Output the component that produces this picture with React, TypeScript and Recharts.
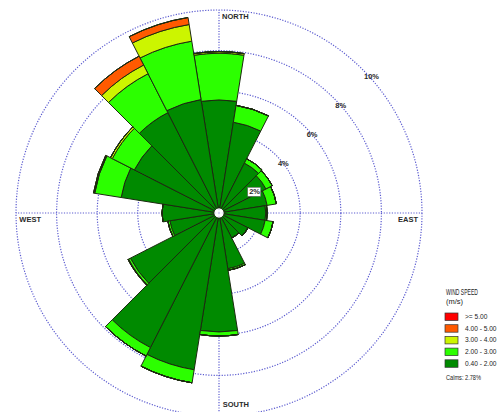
import React from 'react';
import { RadialBarChart, RadialBar, PolarGrid, PolarAngleAxis, PolarRadiusAxis, Legend } from 'recharts';

// Wind directions (degrees clockwise from north), 20 sectors of 18 degrees
const directions = ['0', '18', '36', '54', '72', '90', '108', '126', '144', '162', '180', '198', '216', '234', '252', '270', '288', '306', '324', '342'];
const compassLabels: Record<string, string> = { '0': 'NORTH', '90': 'EAST', '180': 'SOUTH', '270': 'WEST' };

// Frequencies (%) per speed class, per direction
const calmHole = [0.25, 0.25, 0.25, 0.25, 0.25, 0.25, 0.25, 0.25, 0.25, 0.25, 0.25, 0.25, 0.25, 0.25, 0.25, 0.25, 0.25, 0.25, 0.25, 0.25];
const speed040to200 = [5.32, 4.28, 2.51, 2.35, 2.15, 2.05, 2.05, 1.35, 1.13, 2.53, 5.61, 7.57, 7.19, 4.65, 2.2, 2.55, 4.63, 4.43, 5.3, 5.41];
const speed200to300 = [2.3, 0.84, 0.24, 0.35, 0.46, 0.07, 0.4, 0, 0, 0.08, 0.2, 0.65, 0.47, 0.1, 0.1, 0, 1.32, 1.22, 2.15, 2.91];
const speed300to400 = [0.08, 0, 0, 0, 0, 0, 0, 0, 0, 0, 0, 0, 0, 0.03, 0, 0, 0.02, 0.1, 0.48, 0.83];
const speed400to500 = [0, 0, 0, 0, 0, 0, 0, 0, 0, 0, 0, 0, 0, 0, 0, 0, 0.04, 0, 0.49, 0.35];
const speed500plus = [0, 0, 0, 0, 0, 0, 0, 0, 0, 0, 0, 0, 0, 0, 0, 0, 0, 0, 0, 0];

const radiusTicks = [2, 4, 6, 8, 10];
const speedClasses = ['>= 5.00', '4.00 - 5.00', '3.00 - 4.00', '2.00 - 3.00', '0.40 - 2.00'];
const speedColors = ['#ff0000', '#ff5a00', '#ccf500', '#2cff00', '#008a00'];
const calmsText = 'Calms: 2.78%';

const data = directions.map((dir, i) => ({
  dir,
  calm: calmHole[i],
  s1: speed040to200[i],
  s2: speed200to300[i],
  s3: speed300to400[i],
  s4: speed400to500[i],
  s5: speed500plus[i],
}));

const CX = 219;
const CY = 213;
const R = 203;
const FONT = '"Liberation Sans", Arial, sans-serif';

const renderCompassTick = (props: any) => {
  const name = compassLabels[String(props.payload?.value)];
  if (!name) return <g />;
  let x = CX;
  let y = CY;
  let anchor: 'start' | 'end' = 'start';
  if (name === 'NORTH') { x = CX + 3; y = CY - R + 6.7; }
  if (name === 'SOUTH') { x = CX + 3.7; y = CY + R - 11.5; }
  if (name === 'WEST') { x = CX - R + 3.3; y = CY + 6.7; }
  if (name === 'EAST') { x = CX + R - 4; y = CY + 6.7; anchor = 'end'; }
  return (
    <text x={x} y={y} textAnchor={anchor} dominantBaseline="central" fontSize={7.5} fontWeight="bold" fill="#2a2a2a" fontFamily={FONT}>
      {name}
    </text>
  );
};

const renderPercentTick = (props: any) => {
  const { x, y, payload } = props;
  const label = `${payload.value}%`;
  const boxed = payload.value === 2;
  const tx = x + 1.5;
  const ty = y + 7.5;
  return (
    <g>
      {boxed && <rect x={tx - 1.5} y={ty - 4.5} width={13} height={9} fill="#fff" stroke="#666" strokeWidth={0.6} />}
      <text x={tx} y={ty} textAnchor="start" dominantBaseline="central" fontSize={7.5} fontWeight="bold" fill="#2a2a2a" fontFamily={FONT}>
        {label}
      </text>
    </g>
  );
};

const renderLegend = () => (
  <svg width={60} height={100} style={{ display: 'block', overflow: 'visible' }}>
    <text x={2} y={11} fontSize={8.5} fill="#222" fontFamily={FONT} textLength={32} lengthAdjust="spacingAndGlyphs">WIND SPEED</text>
    <text x={2} y={20} fontSize={7.5} fill="#222" fontFamily={FONT}>(m/s)</text>
    {speedClasses.map((c, i) => (
      <g key={c}>
        <rect x={1} y={29 + i * 11.7} width={13} height={7.5} fill={speedColors[i]} stroke="#333" strokeWidth={0.7} />
        <text x={21} y={29 + i * 11.7 + 6} fontSize={6.6} fill="#222" fontFamily={FONT}>{c}</text>
      </g>
    ))}
    <text x={2} y={95.5} fontSize={6.5} fill="#222" fontFamily={FONT} textLength={35} lengthAdjust="spacingAndGlyphs">{calmsText}</text>
  </svg>
);

const barStroke = '#1c2a10';

export default function App() {
  return (
    <div style={{ position: 'absolute', left: 0, top: 0, width: 499, height: 412, background: '#fff', overflow: 'hidden' }}>
      <RadialBarChart
        width={499}
        height={412}
        data={data}
        layout="centric"
        cx={CX}
        cy={CY}
        innerRadius={0}
        outerRadius={R}
        startAngle={81}
        endAngle={-279}
        barCategoryGap={0}
        barGap={0}
        margin={{ top: 0, right: 0, bottom: 0, left: 0 }}
      >
        <PolarGrid gridType="circle" polarAngles={[90, 0, -90, 180]} stroke="#5c5cd0" strokeDasharray="1.2 1.5" strokeWidth={1.2} />
        <RadialBar dataKey="calm" stackId="a" fill="#ffffff" stroke="none" isAnimationActive={false} />
        <RadialBar dataKey="s1" stackId="a" fill={speedColors[4]} stroke={barStroke} strokeWidth={1} isAnimationActive={false} />
        <RadialBar dataKey="s2" stackId="a" fill={speedColors[3]} stroke={barStroke} strokeWidth={1} isAnimationActive={false} />
        <RadialBar dataKey="s3" stackId="a" fill={speedColors[2]} stroke={barStroke} strokeWidth={1} isAnimationActive={false} />
        <RadialBar dataKey="s4" stackId="a" fill={speedColors[1]} stroke={barStroke} strokeWidth={1} isAnimationActive={false} />
        <RadialBar dataKey="s5" stackId="a" fill={speedColors[0]} stroke={barStroke} strokeWidth={1} isAnimationActive={false} />
        <PolarAngleAxis type="category" dataKey="dir" axisLine={false} tickLine={false} tick={renderCompassTick} />
        <PolarRadiusAxis type="number" domain={[0, 10]} ticks={radiusTicks} angle={45} axisLine={false} tickLine={false} tick={renderPercentTick} />
        <Legend content={renderLegend} wrapperStyle={{ position: 'absolute', left: 444, top: 284, bottom: 'auto', width: 60, height: 100 }} />
      </RadialBarChart>
    </div>
  );
}
